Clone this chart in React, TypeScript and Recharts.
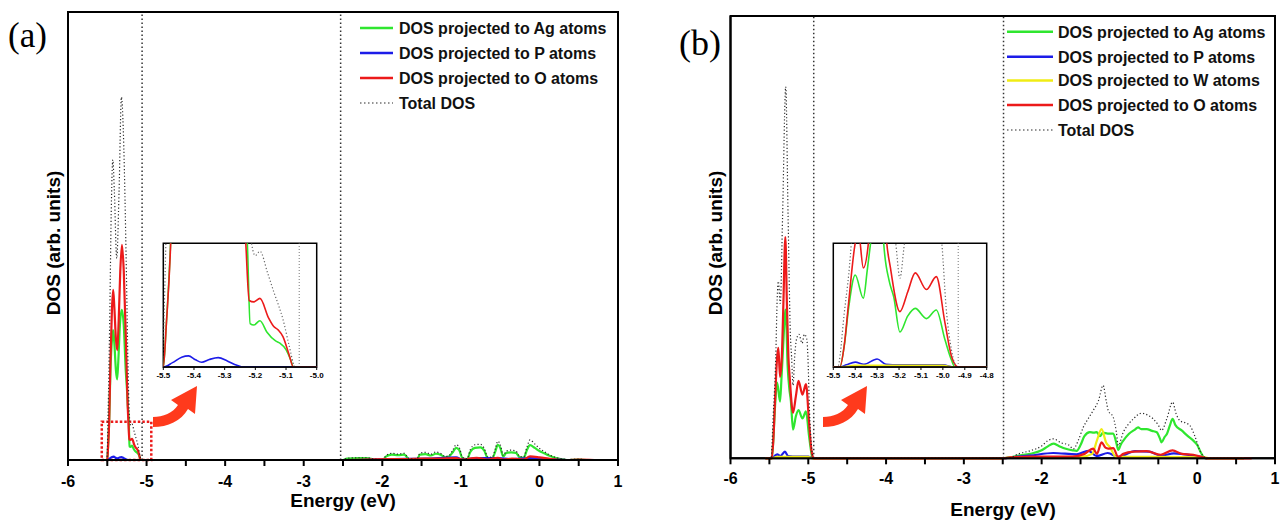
import React from 'react';
import { LineChart, Line, XAxis, YAxis, ReferenceLine, ReferenceArea } from 'recharts';

// [energy (eV), DOS (fraction of plot height)]
type Pt = [number, number];

// ---------- panel (a): Ag / P / O ----------
const agA: Pt[] = [
  [-5.55, 0], [-5.5, 0], [-5.49, 0.03], [-5.476, 0.087], [-5.46, 0.2], [-5.44, 0.27], [-5.425, 0.29],
  [-5.41, 0.26], [-5.39, 0.2], [-5.375, 0.18], [-5.36, 0.22], [-5.34, 0.3], [-5.315, 0.335], [-5.29, 0.3],
  [-5.265, 0.2], [-5.25, 0.16], [-5.238, 0.12], [-5.226, 0.085], [-5.217, 0.03], [-5.205, 0.029],
  [-5.185, 0.032], [-5.162, 0.024], [-5.134, 0.018], [-5.12, 0.0165], [-5.1, 0.012], [-5.085, 0.005],
  [-5.076, 0], [-2.5, 0], [-2.45, 0.003], [-2.3, 0.004], [-2.2, 0.004], [-2.1, 0.001], [-2.0, 0],
  [-1.95, 0.008], [-1.88, 0.012], [-1.8, 0.011], [-1.72, 0.012], [-1.66, 0.002], [-1.56, 0.001],
  [-1.52, 0.012], [-1.45, 0.013], [-1.38, 0.01], [-1.32, 0.014], [-1.25, 0.011], [-1.2, 0.006],
  [-1.15, 0.008], [-1.1, 0.018], [-1.06, 0.027], [-1.02, 0.022], [-0.98, 0.004], [-0.92, 0.002],
  [-0.88, 0.018], [-0.82, 0.027], [-0.75, 0.028], [-0.7, 0.02], [-0.66, 0.005], [-0.6, 0.004],
  [-0.56, 0.02], [-0.53, 0.034], [-0.5, 0.028], [-0.46, 0.008], [-0.42, 0.016], [-0.36, 0.017],
  [-0.3, 0.016], [-0.25, 0.006], [-0.2, 0.005], [-0.16, 0.022], [-0.12, 0.033], [-0.06, 0.027],
  [0, 0.02], [0.06, 0.015], [0.12, 0.01], [0.2, 0.005], [0.28, 0.002], [0.35, 0], [0.5, 0.001], [0.6, 0],
];
const pA: Pt[] = [
  [-5.55, 0], [-5.5, 0], [-5.47, 0.003], [-5.44, 0.0068], [-5.418, 0.0077], [-5.395, 0.005],
  [-5.375, 0.0033], [-5.35, 0.0052], [-5.321, 0.0065], [-5.29, 0.004], [-5.26, 0.0012], [-5.239, 0],
  [-2.5, 0], [-1.85, 0.002], [-1.45, 0.003], [-1.06, 0.006], [-0.98, 0.001], [-0.8, 0.004],
  [-0.53, 0.004], [-0.35, 0.002], [-0.12, 0.004], [0.2, 0.001], [0.35, 0], [0.6, 0],
];
const oA: Pt[] = [
  [-5.55, 0], [-5.5, 0], [-5.49, 0.03], [-5.476, 0.0855], [-5.46, 0.22], [-5.44, 0.34], [-5.425, 0.38],
  [-5.41, 0.34], [-5.39, 0.27], [-5.373, 0.245], [-5.355, 0.31], [-5.335, 0.42], [-5.313, 0.48],
  [-5.29, 0.42], [-5.265, 0.28], [-5.25, 0.18], [-5.24, 0.12], [-5.231, 0.085], [-5.22, 0.046],
  [-5.205, 0.045], [-5.185, 0.0474], [-5.157, 0.034], [-5.14, 0.028], [-5.125, 0.0255], [-5.11, 0.021],
  [-5.09, 0.0085], [-5.076, 0], [-2.5, 0], [-1.9, 0.002], [-1.7, 0.002], [-1.5, 0.003], [-1.3, 0.003],
  [-1.06, 0.004], [-0.98, 0.001], [-0.8, 0.005], [-0.66, 0.001], [-0.53, 0.005], [-0.46, 0.001],
  [-0.35, 0.003], [-0.2, 0.001], [-0.12, 0.008], [0, 0.006], [0.15, 0.002], [0.35, 0], [0.5, 0.001], [0.7, 0],
];
const totA: Pt[] = [
  [-5.55, 0], [-5.505, 0], [-5.49, 0.1], [-5.47, 0.3], [-5.45, 0.55], [-5.43, 0.67], [-5.41, 0.6],
  [-5.38, 0.45], [-5.35, 0.6], [-5.32, 0.81], [-5.29, 0.7], [-5.26, 0.45], [-5.235, 0.2], [-5.222, 0.11],
  [-5.212, 0.085], [-5.2, 0.077], [-5.185, 0.08], [-5.16, 0.065], [-5.14, 0.052], [-5.125, 0.043],
  [-5.11, 0.033], [-5.09, 0.015], [-5.07, 0], [-2.5, 0], [-2.45, 0.004], [-2.3, 0.005], [-2.2, 0.005],
  [-2.1, 0.002], [-2.0, 0.001], [-1.95, 0.01], [-1.88, 0.015], [-1.8, 0.013], [-1.72, 0.015],
  [-1.66, 0.003], [-1.56, 0.002], [-1.52, 0.015], [-1.45, 0.017], [-1.38, 0.013], [-1.32, 0.018],
  [-1.25, 0.014], [-1.2, 0.008], [-1.15, 0.01], [-1.1, 0.023], [-1.06, 0.034], [-1.02, 0.028],
  [-0.98, 0.006], [-0.92, 0.003], [-0.88, 0.023], [-0.82, 0.034], [-0.75, 0.035], [-0.7, 0.025],
  [-0.66, 0.007], [-0.6, 0.006], [-0.56, 0.026], [-0.53, 0.042], [-0.5, 0.035], [-0.46, 0.01],
  [-0.42, 0.02], [-0.36, 0.022], [-0.3, 0.02], [-0.25, 0.008], [-0.2, 0.007], [-0.16, 0.028],
  [-0.12, 0.045], [-0.06, 0.036], [0, 0.026], [0.06, 0.019], [0.12, 0.012], [0.2, 0.006], [0.28, 0.003],
  [0.35, 0.001], [0.5, 0.002], [0.6, 0],
];

// ---------- panel (b): Ag / P / W / O ----------
const agB: Pt[] = [
  [-5.55, 0], [-5.47, 0], [-5.45, 0.04], [-5.43, 0.11], [-5.4, 0.171], [-5.363, 0.128], [-5.345, 0.18],
  [-5.33, 0.23], [-5.31, 0.3], [-5.295, 0.336], [-5.28, 0.3], [-5.27, 0.23], [-5.245, 0.16], [-5.224, 0.13],
  [-5.196, 0.065], [-5.16, 0.095], [-5.126, 0.109], [-5.075, 0.09], [-5.03, 0.106], [-4.99, 0.05],
  [-4.96, 0.012], [-4.945, 0], [-2.5, 0], [-2.41, 0.002], [-2.3, 0.006], [-2.15, 0.01], [-2.0, 0.018],
  [-1.92, 0.027], [-1.85, 0.033], [-1.78, 0.028], [-1.7, 0.022], [-1.6, 0.018], [-1.55, 0.017],
  [-1.5, 0.03], [-1.45, 0.05], [-1.38, 0.059], [-1.33, 0.058], [-1.29, 0.059], [-1.25, 0.05],
  [-1.21, 0.058], [-1.15, 0.056], [-1.08, 0.056], [-1.04, 0.035], [-1.015, 0.019], [-0.98, 0.032],
  [-0.95, 0.04], [-0.88, 0.055], [-0.8, 0.065], [-0.76, 0.07], [-0.72, 0.066], [-0.65, 0.066],
  [-0.58, 0.062], [-0.52, 0.059], [-0.48, 0.045], [-0.458, 0.036], [-0.42, 0.048], [-0.39, 0.055],
  [-0.35, 0.075], [-0.317, 0.089], [-0.28, 0.075], [-0.2, 0.063], [-0.12, 0.05], [-0.05, 0.04],
  [0, 0.03], [0.05, 0.012], [0.1, 0], [0.6, 0],
];
const pB: Pt[] = [
  [-5.55, 0], [-5.47, 0], [-5.44, 0.004], [-5.4, 0.009], [-5.36, 0.005], [-5.3, 0.015], [-5.26, 0.005],
  [-5.2, 0.004], [-5.0, 0.004], [-4.95, 0], [-2.5, 0], [-2.4, 0.002], [-2.15, 0.006], [-1.85, 0.012],
  [-1.55, 0.009], [-1.4, 0.017], [-1.29, 0.005], [-1.15, 0.012], [-1.015, 0.003], [-0.8, 0.016],
  [-0.62, 0.015], [-0.46, 0.006], [-0.3, 0.011], [-0.05, 0.006], [0.08, 0.002], [0.12, 0], [0.6, 0],
];
const wB: Pt[] = [
  [-5.55, 0], [-5.47, 0], [-5.4, 0.003], [-5.0, 0.003], [-4.95, 0], [-2.5, 0], [-2.4, 0.002],
  [-1.5, 0.003], [-1.35, 0.01], [-1.29, 0.04], [-1.23, 0.066], [-1.17, 0.035], [-1.12, 0.025],
  [-1.05, 0.004], [-0.5, 0.003], [0.1, 0.002], [0.15, 0], [0.6, 0],
];
const oB: Pt[] = [
  [-5.55, 0], [-5.47, 0], [-5.45, 0.04], [-5.43, 0.12], [-5.4, 0.23], [-5.385, 0.25], [-5.363, 0.184],
  [-5.34, 0.23], [-5.32, 0.35], [-5.295, 0.5], [-5.275, 0.35], [-5.256, 0.23], [-5.24, 0.186],
  [-5.196, 0.103], [-5.16, 0.14], [-5.126, 0.175], [-5.075, 0.144], [-5.03, 0.168], [-4.99, 0.081],
  [-4.96, 0.019], [-4.93, 0], [-2.5, 0], [-2.4, 0.002], [-2.15, 0.004], [-1.6, 0.004], [-1.45, 0.01],
  [-1.337, 0.022], [-1.29, 0.01], [-1.23, 0.036], [-1.18, 0.024], [-1.144, 0.022], [-1.08, 0.023],
  [-1.015, 0.003], [-0.95, 0.01], [-0.82, 0.015], [-0.65, 0.016], [-0.47, 0.008], [-0.317, 0.018],
  [-0.2, 0.01], [-0.05, 0.008], [0.08, 0.002], [0.12, 0], [0.7, 0],
];
const totB: Pt[] = [
  [-5.55, 0], [-5.48, 0], [-5.45, 0.1], [-5.418, 0.23], [-5.4, 0.36], [-5.385, 0.4], [-5.36, 0.35],
  [-5.33, 0.55], [-5.29, 0.84], [-5.26, 0.55], [-5.23, 0.28], [-5.215, 0.23], [-5.196, 0.165],
  [-5.175, 0.23], [-5.15, 0.27], [-5.12, 0.28], [-5.08, 0.26], [-5.05, 0.28], [-5.02, 0.27],
  [-5.005, 0.23], [-4.985, 0.11], [-4.96, 0.03], [-4.935, 0], [-2.5, 0], [-2.41, 0.001], [-2.3, 0.01],
  [-2.15, 0.017], [-2.0, 0.028], [-1.92, 0.04], [-1.85, 0.044], [-1.75, 0.035], [-1.65, 0.03],
  [-1.594, 0.021], [-1.53, 0.04], [-1.465, 0.07], [-1.4, 0.09], [-1.337, 0.108], [-1.27, 0.13],
  [-1.21, 0.165], [-1.17, 0.13], [-1.144, 0.108], [-1.08, 0.093], [-1.04, 0.06], [-1.015, 0.029],
  [-0.95, 0.059], [-0.88, 0.078], [-0.822, 0.089], [-0.715, 0.102], [-0.63, 0.097], [-0.565, 0.089],
  [-0.5, 0.075], [-0.458, 0.063], [-0.39, 0.09], [-0.317, 0.127], [-0.27, 0.1], [-0.222, 0.085],
  [-0.15, 0.08], [-0.094, 0.074], [-0.03, 0.05], [0.04, 0.015], [0.077, 0.006], [0.11, 0], [0.6, 0],
];

// axis ticks and labels
const mainTicks = [-6, -5.5, -5, -4.5, -4, -3.5, -3, -2.5, -2, -1.5, -1, -0.5, 0, 0.5, 1];
const insetTicksA = [-5.5, -5.4, -5.3, -5.2, -5.1, -5.0];
const insetTicksB = [-5.5, -5.4, -5.3, -5.2, -5.1, -5.0, -4.9, -4.8];
const refLinesA = [-5.057, -2.53];
const refLinesB = [-4.93, -2.49];
const legendA = ['DOS projected to Ag atoms', 'DOS projected to P atoms', 'DOS projected to O atoms', 'Total DOS'];
const legendB = [
  'DOS projected to Ag atoms', 'DOS projected to P atoms', 'DOS projected to W atoms',
  'DOS projected to O atoms', 'Total DOS',
];

const GREEN = '#2fe62f';
const BLUE = '#1c1ce8';
const YELLOW = '#f0ec14';
const RED = '#ec1a1a';
const TOTAL = '#2a2a2a';
const ARROW = '#ff3a1c';
const SANS = "'Liberation Sans', Arial, sans-serif";
const SERIF = "'Liberation Serif', 'Times New Roman', serif";

type Series = { key: string; pts: Pt[]; color: string; dotted?: boolean };

const seriesA: Series[] = [
  { key: 'ag', pts: agA, color: GREEN },
  { key: 'p', pts: pA, color: BLUE },
  { key: 'o', pts: oA, color: RED },
  { key: 'tot', pts: totA, color: TOTAL, dotted: true },
];
const seriesB: Series[] = [
  { key: 'ag', pts: agB, color: GREEN },
  { key: 'p', pts: pB, color: BLUE },
  { key: 'w', pts: wB, color: YELLOW },
  { key: 'o', pts: oB, color: RED },
  { key: 'tot', pts: totB, color: TOTAL, dotted: true },
];

const toRows = (pts: Pt[]) => pts.map(([e, v]) => ({ e, v }));

function lines(list: Series[], w: number) {
  return list.map((s) => (
    <Line
      key={s.key}
      data={toRows(s.pts)}
      dataKey="v"
      type="monotone"
      stroke={s.dotted ? (w < 2 ? '#666' : TOTAL) : s.color}
      strokeWidth={s.dotted ? 1.2 : w}
      strokeDasharray={s.dotted ? '1.2 2.2' : undefined}
      dot={false}
      activeDot={false}
      isAnimationActive={false}
    />
  ));
}

interface PanelProps {
  series: Series[];
  refs: number[];
  margin: { top: number; right: number; left: number; bottom: number };
  tickMargin: number;
  children?: React.ReactNode;
}

function MainPanel({ series, refs, margin, tickMargin, children }: PanelProps) {
  return (
    <LineChart width={640} height={524} margin={margin}>
      <XAxis
        type="number"
        dataKey="e"
        domain={[-6, 1]}
        ticks={mainTicks}
        interval={0}
        height={30}
        tickSize={6}
        tickMargin={tickMargin}
        tickFormatter={(v: number) => (Number.isInteger(v) ? String(v) : '')}
        tick={{ fontSize: 16, fontWeight: 700, fill: '#000', fontFamily: SANS }}
        tickLine={{ stroke: '#000', strokeWidth: 2 }}
        axisLine={{ stroke: '#000', strokeWidth: 2 }}
      />
      <YAxis
        type="number"
        domain={[0, 1]}
        width={10}
        tick={false}
        tickLine={false}
        axisLine={{ stroke: '#000', strokeWidth: 2 }}
      />
      <ReferenceArea x1={-6} x2={1} y1={0} y2={1} fill="none" stroke="#000" strokeWidth={2} ifOverflow="visible" />
      {refs.map((x) => (
        <ReferenceLine key={x} x={x} stroke="#333" strokeWidth={1.5} strokeDasharray="1.5 2.5" />
      ))}
      {children}
      {lines(series, 2.2)}
    </LineChart>
  );
}

interface InsetProps {
  series: Series[];
  refs: number[];
  domain: [number, number];
  ticks: number[];
  yMax: number;
}

function Inset({ series, refs, domain, ticks, yMax }: InsetProps) {
  return (
    <LineChart width={170} height={150} margin={{ top: 8.3, right: 8.3, left: 8.3, bottom: 2 }}>
      <XAxis
        type="number"
        dataKey="e"
        domain={domain}
        allowDataOverflow
        ticks={ticks}
        interval={0}
        height={16}
        tickSize={3}
        tickMargin={2}
        tickFormatter={(v: number) => v.toFixed(1)}
        tick={{ fontSize: 8, fontWeight: 700, fill: '#000', fontFamily: SANS }}
        tickLine={{ stroke: '#000', strokeWidth: 1 }}
        axisLine={{ stroke: '#000', strokeWidth: 1.5 }}
      />
      <YAxis hide type="number" domain={[0, yMax]} allowDataOverflow />
      <ReferenceArea
        x1={domain[0]}
        x2={domain[1]}
        y1={0}
        y2={yMax}
        fill="none"
        stroke="#000"
        strokeWidth={1.5}
        ifOverflow="visible"
      />
      {refs.map((x) => (
        <ReferenceLine key={x} x={x} stroke="#777" strokeWidth={1} strokeDasharray="1 2" />
      ))}
      {lines(series, 1.6)}
    </LineChart>
  );
}

function LegendBlock({ items, colors, x1, x2, tx, ys }: {
  items: string[]; colors: string[]; x1: number; x2: number; tx: number; ys: number[];
}) {
  return (
    <g>
      {items.map((t, i) => (
        <g key={t}>
          <line
            x1={x1}
            x2={x2}
            y1={ys[i]}
            y2={ys[i]}
            stroke={colors[i]}
            strokeWidth={colors[i] === TOTAL ? 1.2 : 2.5}
            strokeDasharray={colors[i] === TOTAL ? '1.5 2.5' : undefined}
          />
          <text x={tx} y={ys[i] + 5.8} fontSize={16} fontWeight={700} fontFamily={SANS} fill="#111">
            {t}
          </text>
        </g>
      ))}
    </g>
  );
}

const arrowPath = 'M0,31 C10,31 20,27 25,19 L18,14 L44,0 L42,28 L35,23 C28,35 15,41 0,41 Z';

export default function App() {
  return (
    <div
      style={{
        position: 'absolute',
        left: 0,
        top: 0,
        width: 1280,
        height: 524,
        background: '#fff',
        fontFamily: SANS,
        overflow: 'hidden',
      }}
    >
      <div style={{ position: 'absolute', left: 0, top: 0 }}>
        <MainPanel series={seriesA} refs={refLinesA} margin={{ top: 12, right: 22, left: 58, bottom: 34 }} tickMargin={10}>
          <ReferenceArea
            x1={-5.57}
            x2={-4.94}
            y1={0}
            y2={0.0855}
            fill="none"
            stroke={RED}
            strokeWidth={2.5}
            strokeDasharray="2.5 2"
            ifOverflow="visible"
          />
        </MainPanel>
      </div>
      <div style={{ position: 'absolute', left: 640, top: 0 }}>
        <MainPanel series={seriesB} refs={refLinesB} margin={{ top: 16, right: 5, left: 80.5, bottom: 35.7 }} tickMargin={8} />
      </div>
      <div style={{ position: 'absolute', left: 155, top: 235 }}>
        <Inset series={seriesA} refs={refLinesA} domain={[-5.5, -5.0]} ticks={insetTicksA} yMax={0.0855} />
      </div>
      <div style={{ position: 'absolute', left: 825, top: 235 }}>
        <Inset series={seriesB} refs={refLinesB} domain={[-5.5, -4.8]} ticks={insetTicksB} yMax={0.23} />
      </div>
      <svg width={1280} height={524} style={{ position: 'absolute', left: 0, top: 0, pointerEvents: 'none' }}>
        <text x={8} y={47} fontSize={35} fontFamily={SERIF} fill="#000">(a)</text>
        <text x={679} y={55} fontSize={36} fontFamily={SERIF} fill="#000">(b)</text>

        <text transform="translate(60,243) rotate(-90)" textAnchor="middle" fontSize={19} fontWeight={700} fontFamily={SANS}>
          DOS (arb. units)
        </text>
        <text transform="translate(722,243) rotate(-90)" textAnchor="middle" fontSize={19} fontWeight={700} fontFamily={SANS}>
          DOS (arb. units)
        </text>
        <text x={343} y={507} textAnchor="middle" fontSize={19} fontWeight={700} fontFamily={SANS}>Energy (eV)</text>
        <text x={1003} y={516} textAnchor="middle" fontSize={19} fontWeight={700} fontFamily={SANS}>Energy (eV)</text>

        <LegendBlock items={legendA} colors={[GREEN, BLUE, RED, TOTAL]} x1={360} x2={393} tx={399} ys={[28, 53, 78, 103]} />
        <LegendBlock
          items={legendB}
          colors={[GREEN, BLUE, YELLOW, RED, TOTAL]}
          x1={1007}
          x2={1053}
          tx={1058}
          ys={[31.7, 56.7, 80.5, 105, 130]}
        />

        <path d={arrowPath} transform="translate(153,386)" fill={ARROW} />
        <path d={arrowPath} transform="translate(823,386)" fill={ARROW} />
      </svg>
    </div>
  );
}
